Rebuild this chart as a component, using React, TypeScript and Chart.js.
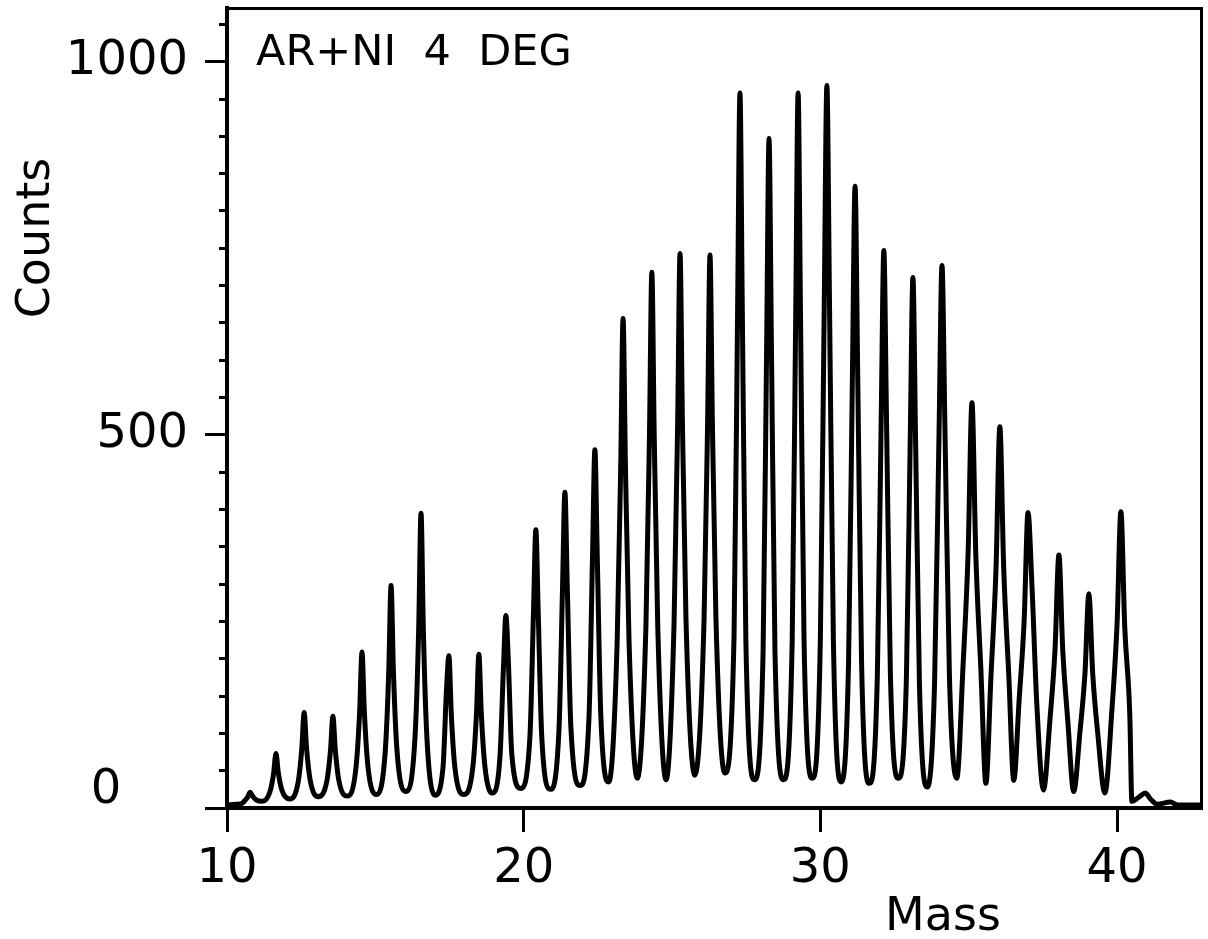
import React, { useEffect, useRef } from "react";
import { Chart, registerables } from "chart.js";

Chart.register(...registerables);

// ---- Data (x in axis units of "Mass", y in "Counts") ----
const peakMass = [10.78, 11.65, 12.6, 13.57, 14.55, 15.53, 16.54, 17.48, 18.49, 19.4, 20.41, 21.39, 22.4, 23.35, 24.32, 25.27, 26.28, 27.29, 28.27, 29.25, 30.22, 31.17, 32.14, 33.12, 34.1, 35.11, 36.05, 37.0, 38.04, 39.05, 40.13];
const peakCounts = [21, 73, 128, 123, 209, 298, 395, 204, 206, 258, 373, 423, 480, 656, 718, 743, 741, 958, 897, 958, 968, 833, 747, 711, 727, 543, 511, 396, 339, 287, 397];

// valley before each peak, plus the one after the last peak
const valleyMass = [10.5, 11.2, 12.12, 13.08, 14.06, 15.04, 16.03, 17.01, 17.98, 18.94, 19.9, 20.9, 21.9, 22.87, 23.83, 24.8, 25.77, 26.78, 27.78, 28.76, 29.73, 30.7, 31.65, 32.63, 33.61, 34.6, 35.58, 36.52, 37.52, 38.54, 39.59, 40.5];
const valleyCounts = [6, 9, 12, 15, 16, 18, 22, 17, 18, 20, 26, 25, 30, 35, 40, 38, 44, 47, 38, 38, 40, 35, 33, 40, 28, 40, 33, 37, 24, 22, 20, 9];

// flank levels of each peak (left / right)
const shoulderLeftCounts = [15, 46, 79, 78, 128, 180, 238, 160, 127, 190, 262, 296, 336, 457, 501, 517, 518, 666, 622, 664, 671, 578, 519, 496, 503, 342, 320, 252, 213, 181, 246];
const shoulderRightCounts = [16, 47, 81, 78, 129, 182, 236, 126, 128, 200, 262, 297, 338, 459, 500, 519, 519, 664, 622, 664, 669, 577, 521, 492, 507, 339, 321, 300, 212, 180, 242];
const footLeftCounts = [9, 22, 35, 37, 55, 74, 97, 54, 56, 68, 95, 105, 120, 221, 243, 250, 253, 229, 210, 222, 226, 195, 176, 174, 168, 191, 176, 145, 119, 102, 133];
const footRightCounts = [11, 24, 38, 37, 56, 77, 93, 55, 57, 72, 95, 109, 124, 225, 242, 254, 255, 222, 210, 224, 222, 193, 181, 165, 177, 186, 179, 136, 117, 100, 125];
// half-widths (in mass units) at which the flank levels are read
const shoulderHalfWidth = [0.08, 0.08, 0.08, 0.08, 0.08, 0.08, 0.08, 0.08, 0.08, 0.08, 0.08, 0.08, 0.08, 0.08, 0.08, 0.08, 0.08, 0.08, 0.08, 0.08, 0.09, 0.09, 0.09, 0.09, 0.1, 0.13, 0.13, 0.13, 0.13, 0.13, 0.13];
const footHalfWidth = [0.2, 0.2, 0.2, 0.2, 0.2, 0.2, 0.2, 0.2, 0.2, 0.2, 0.2, 0.2, 0.2, 0.2, 0.2, 0.2, 0.2, 0.2, 0.2, 0.2, 0.22, 0.22, 0.22, 0.22, 0.25, 0.3, 0.3, 0.3, 0.3, 0.3, 0.3];

const leadMass = [10.02, 10.3];
const leadCounts = [4, 5];
const tailMass = [40.75, 40.95, 41.15, 41.35, 41.8, 42.05, 42.8];
const tailCounts = [15, 20, 11, 5, 8, 4, 4];

const xTicks = [10, 20, 30, 40];
const xTickLabels = ["10", "20", "30", "40"];
const yMajorTicks = [0, 500, 1000];
const yTickLabels = ["0", "500", "1000"];
const yMinorTicks = [0, 50, 100, 150, 200, 250, 300, 350, 400, 450, 500, 550, 600, 650, 700, 750, 800, 850, 900, 950, 1000, 1050];

const xMin = 10;
const xMax = 42.83;
const yMin = 0;
const yMax = 1072;

const annotationText = "AR+NI  4  DEG";
const xTitle = "Mass";
const yTitle = "Counts";

const FONT = '"DejaVu Sans", "Liberation Sans", sans-serif';

function buildTrace() {
  const pts: { x: number; y: number }[] = [];
  leadMass.forEach((m, i) => pts.push({ x: m, y: leadCounts[i] }));
  peakMass.forEach((m, i) => {
    const sw = shoulderHalfWidth[i];
    const fw = footHalfWidth[i];
    pts.push({ x: valleyMass[i], y: valleyCounts[i] });
    pts.push({ x: m - fw, y: footLeftCounts[i] });
    pts.push({ x: m - sw, y: shoulderLeftCounts[i] });
    pts.push({ x: m, y: peakCounts[i] });
    pts.push({ x: m + sw, y: shoulderRightCounts[i] });
    pts.push({ x: m + fw, y: footRightCounts[i] });
  });
  const last = valleyMass.length - 1;
  pts.push({ x: valleyMass[last], y: valleyCounts[last] });
  tailMass.forEach((m, i) => pts.push({ x: m, y: tailCounts[i] }));
  return pts;
}

const textPlugin = {
  id: "paperTexts",
  afterDraw(chart: any) {
    const ctx = chart.ctx as CanvasRenderingContext2D;
    const ys = chart.scales.y;
    ctx.save();
    ctx.fillStyle = "#000";
    // y tick labels
    ctx.font = `48px ${FONT}`;
    ctx.textBaseline = "middle";
    yMajorTicks.forEach((v, i) => {
      const py = ys.getPixelForValue(v);
      if (v === 0) {
        ctx.textAlign = "center";
        ctx.fillText(yTickLabels[i], 106, py - 17);
      } else {
        ctx.textAlign = "right";
        ctx.fillText(yTickLabels[i], 188, py);
      }
    });
    // annotation
    ctx.font = `43px ${FONT}`;
    ctx.textAlign = "left";
    ctx.textBaseline = "alphabetic";
    ctx.fillText(annotationText, 256, 65);
    // x title
    ctx.font = `46px ${FONT}`;
    ctx.textAlign = "center";
    ctx.fillText(xTitle, 943, 930);
    // y title
    ctx.translate(37, 238);
    ctx.rotate(-Math.PI / 2);
    ctx.textAlign = "center";
    ctx.textBaseline = "middle";
    ctx.fillText(yTitle, 0, 0);
    ctx.restore();
  },
};

export default function App() {
  const canvasRef = useRef<HTMLCanvasElement | null>(null);

  useEffect(() => {
    const canvas = canvasRef.current;
    if (!canvas) return;
    const chart = new Chart(canvas, {
      type: "line",
      data: {
        datasets: [
          {
            data: buildTrace(),
            borderColor: "#000",
            borderWidth: 5,
            pointRadius: 0,
            fill: false,
            cubicInterpolationMode: "monotone",
            xAxisID: "x",
            yAxisID: "y",
          },
        ],
      },
      options: {
        animation: false,
        responsive: false,
        devicePixelRatio: 1,
        parsing: false as any,
        layout: { padding: { left: 0, right: 7, top: 8, bottom: 0 } },
        plugins: {
          legend: { display: false },
          tooltip: { enabled: false },
          title: { display: false },
        },
        scales: {
          x: {
            type: "linear",
            position: "bottom",
            min: xMin,
            max: xMax,
            afterBuildTicks: (axis: any) => {
              axis.ticks = xTicks.map((v) => ({ value: v }));
            },
            afterFit: (axis: any) => {
              axis.height = 131;
            },
            grid: {
              display: true,
              drawOnChartArea: false,
              drawTicks: true,
              tickLength: 24,
              color: "#000",
              lineWidth: 3,
            },
            border: { display: true, color: "#000", width: 4 },
            ticks: {
              color: "#000",
              font: { family: FONT, size: 48 },
              padding: 9,
              maxRotation: 0,
              autoSkip: false,
              callback: (_v: any, i: number) => xTickLabels[i],
            },
          },
          xTop: {
            type: "linear",
            position: "top",
            min: xMin,
            max: xMax,
            afterFit: (axis: any) => {
              axis.height = 0;
            },
            grid: { display: true, drawOnChartArea: false, drawTicks: false },
            border: { display: true, color: "#000", width: 3 },
            ticks: { display: false },
          },
          y: {
            type: "linear",
            position: "left",
            weight: 1,
            min: yMin,
            max: yMax,
            afterBuildTicks: (axis: any) => {
              axis.ticks = yMajorTicks.map((v) => ({ value: v }));
            },
            afterFit: (axis: any) => {
              axis.width = 227;
            },
            grid: {
              display: true,
              drawOnChartArea: false,
              drawTicks: true,
              tickLength: 22,
              color: "#000",
              lineWidth: 3,
            },
            border: { display: true, color: "#000", width: 4 },
            ticks: { display: false },
          },
          yMinor: {
            type: "linear",
            position: "left",
            weight: 0,
            min: yMin,
            max: yMax,
            afterBuildTicks: (axis: any) => {
              axis.ticks = yMinorTicks.map((v) => ({ value: v }));
            },
            afterFit: (axis: any) => {
              axis.width = 0;
            },
            grid: {
              display: true,
              drawOnChartArea: false,
              drawTicks: true,
              tickLength: 8,
              color: "#000",
              lineWidth: 3,
            },
            border: { display: false },
            ticks: { display: false },
          },
          yRight: {
            type: "linear",
            position: "right",
            min: yMin,
            max: yMax,
            afterFit: (axis: any) => {
              axis.width = 0;
            },
            grid: { display: true, drawOnChartArea: false, drawTicks: false },
            border: { display: true, color: "#000", width: 3 },
            ticks: { display: false },
          },
        },
      } as any,
      plugins: [textPlugin],
    });
    return () => chart.destroy();
  }, []);

  return (
    <div style={{ position: "absolute", left: 0, top: 0, width: 1208, height: 939, background: "#fff" }}>
      <canvas ref={canvasRef} width={1208} height={939} style={{ display: "block" }} />
    </div>
  );
}
